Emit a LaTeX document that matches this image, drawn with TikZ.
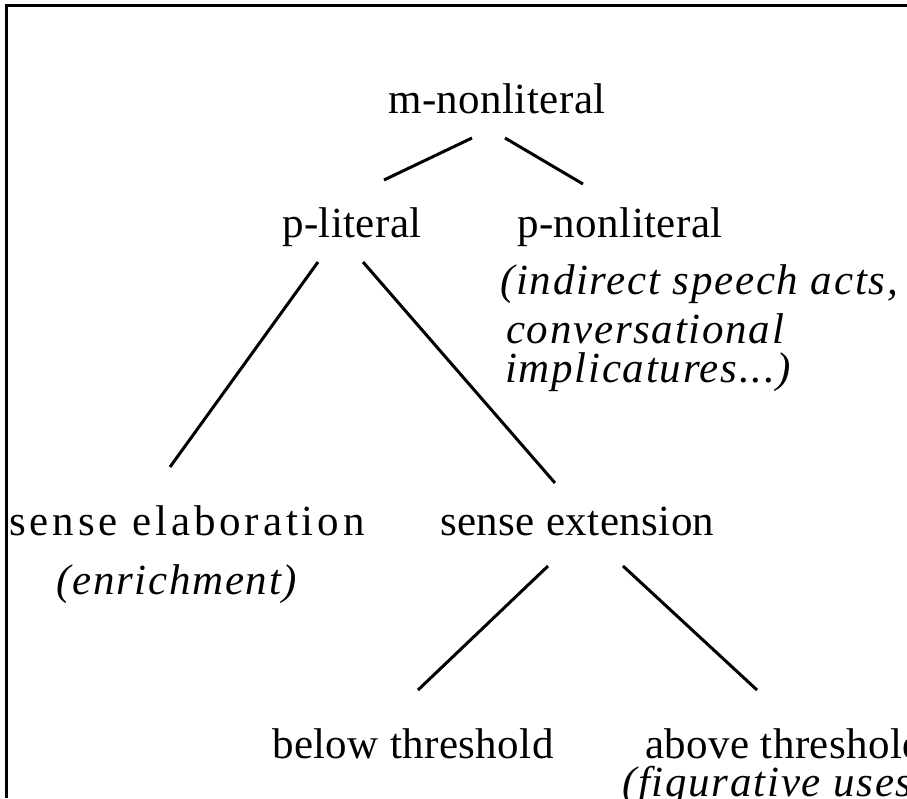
\documentclass[tikz,border=0pt]{standalone}
\usepackage{fontspec}
\setmainfont{Liberation Serif}[LetterSpace=1,ItalicFeatures={LetterSpace=4}]
\begin{document}
\begin{tikzpicture}[x=1pt,y=-1pt,
  lbl/.style={anchor=base west,inner sep=0pt,font=\fontsize{43}{43}\selectfont},
  note/.style={lbl,font=\fontsize{43}{43}\selectfont\itshape},
  wide/.style={lbl,font=\fontsize{43}{43}\selectfont\addfontfeature{LetterSpace=9}},
  branch/.style={line width=3pt}]
  \useasboundingbox (0,0) rectangle (907,798);
  \clip (0,0) rectangle (907,798);

  % frame
  \draw[line width=3pt] (907,5) -| (6,798);

  % top level
  \node[lbl] (mnon) at (388,113) {m-nonliteral};
  \node[lbl] (plit) at (282,237) {p-literal};
  \node[lbl] (pnon) at (517,237) {p-nonliteral};
  \node[note] (pnonA) at (500,294) {(indirect speech acts,};
  \node[note] (pnonB) at (506,343) {conversational};
  \node[note] (pnonC) at (505,382) {implicatures...)};

  % second level
  \node[wide] (sel) at (9,535) {sense elaboration};
  \node[note] (selA) at (56,594) {(enrichment)};
  \node[lbl] (sext) at (440,535) {sense extension};

  % third level
  \node[lbl] (below) at (272,758) {below threshold};
  \node[lbl] (above) at (645,758) {above threshold};
  \node[note] (aboveA) at (622,796) {(figurative uses)};

  % branch ends
  \coordinate (mnonL) at (472,138);
  \coordinate (mnonR) at (505,138);
  \coordinate (plitT) at (384,180);
  \coordinate (pnonT) at (583,184);
  \coordinate (plitL) at (318,262);
  \coordinate (plitR) at (363,262);
  \coordinate (selT)  at (170,467);
  \coordinate (sextT) at (555,483);
  \coordinate (sextL) at (548,566);
  \coordinate (sextR) at (623,566);
  \coordinate (belowT) at (418,690);
  \coordinate (aboveT) at (757,690);

  % branches
  \draw[branch] (mnonL) -- (plitT);
  \draw[branch] (mnonR) -- (pnonT);
  \draw[branch] (plitL) -- (selT);
  \draw[branch] (plitR) -- (sextT);
  \draw[branch] (sextL) -- (belowT);
  \draw[branch] (sextR) -- (aboveT);
\end{tikzpicture}
\end{document}
